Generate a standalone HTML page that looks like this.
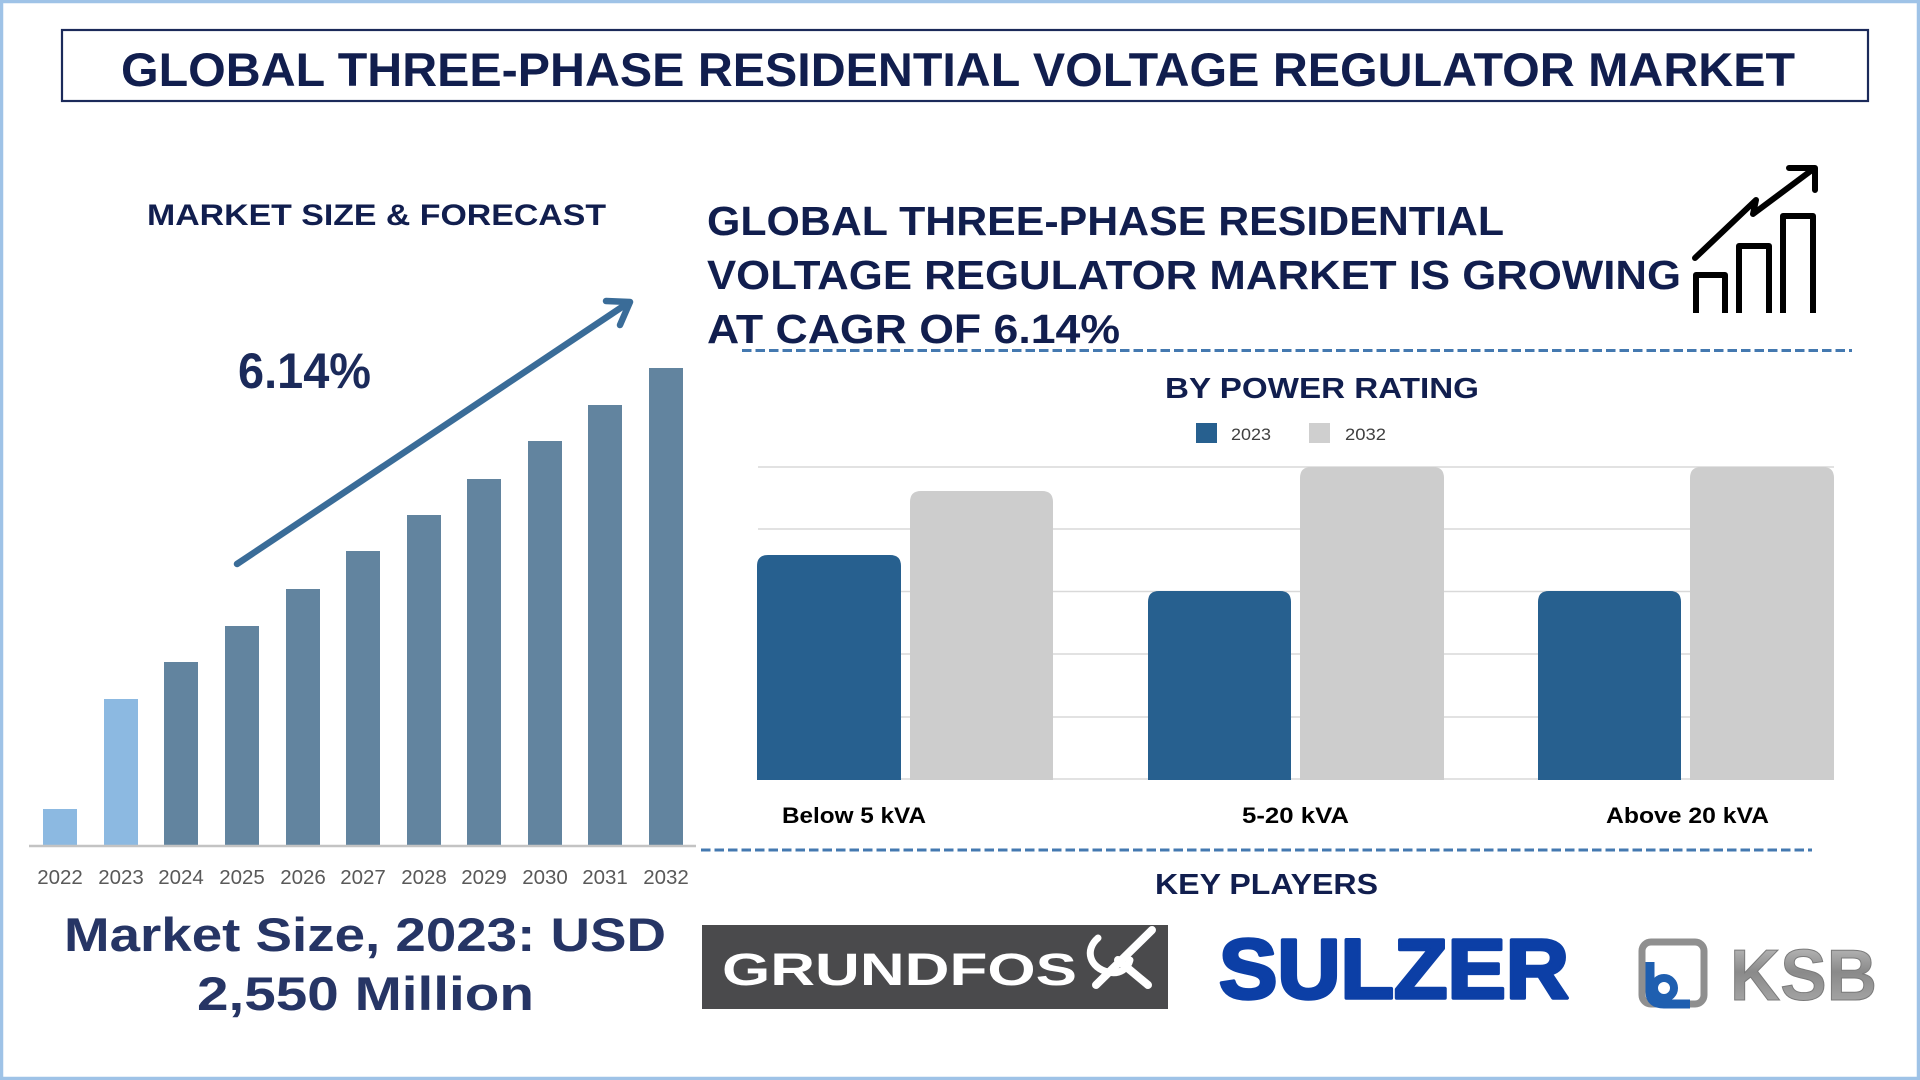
<!DOCTYPE html>
<html>
<head>
<meta charset="utf-8">
<style>
html,body{margin:0;padding:0;background:#fff;}
svg{display:block;}
text{font-family:"Liberation Sans",Arial,sans-serif;}
</style>
</head>
<body>
<svg width="1920" height="1080" viewBox="0 0 1920 1080" xmlns="http://www.w3.org/2000/svg">
  <rect x="0" y="0" width="1920" height="1080" fill="#ffffff"/>
  <!-- outer page border -->
  <rect x="1.5" y="1.5" width="1917" height="1077" fill="none" stroke="#9fc3e7" stroke-width="3.5"/>

  <!-- title box -->
  <rect x="62" y="30" width="1806" height="71" fill="#fff" stroke="#1b2a5a" stroke-width="2.2"/>
  <text x="121" y="86" font-size="47" font-weight="bold" fill="#111e4e" textLength="1674" lengthAdjust="spacingAndGlyphs">GLOBAL THREE-PHASE RESIDENTIAL VOLTAGE REGULATOR MARKET</text>

  <!-- left section heading -->
  <text x="147" y="225" font-size="30" font-weight="bold" fill="#111e4e" textLength="459" lengthAdjust="spacingAndGlyphs">MARKET SIZE &amp; FORECAST</text>

  <!-- left bar chart -->
  <g>
    <rect x="43" y="809" width="34" height="36" fill="#8cb9e1"/>
    <rect x="104" y="699" width="34" height="146" fill="#8cb9e1"/>
    <rect x="164" y="662" width="34" height="183" fill="#62849f"/>
    <rect x="225" y="626" width="34" height="219" fill="#62849f"/>
    <rect x="286" y="589" width="34" height="256" fill="#62849f"/>
    <rect x="346" y="551" width="34" height="294" fill="#62849f"/>
    <rect x="407" y="515" width="34" height="330" fill="#62849f"/>
    <rect x="467" y="479" width="34" height="366" fill="#62849f"/>
    <rect x="528" y="441" width="34" height="404" fill="#62849f"/>
    <rect x="588" y="405" width="34" height="440" fill="#62849f"/>
    <rect x="649" y="368" width="34" height="477" fill="#62849f"/>
    <line x1="29" y1="846" x2="696" y2="846" stroke="#c3c3c3" stroke-width="2.5"/>
  </g>
  <g font-size="20.5" fill="#595959" text-anchor="middle">
    <text x="60" y="884">2022</text>
    <text x="121" y="884">2023</text>
    <text x="181" y="884">2024</text>
    <text x="242" y="884">2025</text>
    <text x="303" y="884">2026</text>
    <text x="363" y="884">2027</text>
    <text x="424" y="884">2028</text>
    <text x="484" y="884">2029</text>
    <text x="545" y="884">2030</text>
    <text x="605" y="884">2031</text>
    <text x="666" y="884">2032</text>
  </g>

  <!-- growth arrow -->
  <g stroke="#3a6c98" stroke-width="6.5" stroke-linecap="round" fill="none">
    <line x1="237" y1="564" x2="628" y2="303"/>
    <polyline points="606,301 630,302 620,325" stroke-linejoin="round"/>
  </g>
  <text x="238" y="388" font-size="50" font-weight="bold" fill="#1b2a5a" textLength="133" lengthAdjust="spacingAndGlyphs">6.14%</text>

  <!-- market size text -->
  <text x="64" y="951" font-size="47" font-weight="bold" fill="#263565" textLength="602" lengthAdjust="spacingAndGlyphs">Market Size, 2023: USD</text>
  <text x="197" y="1010" font-size="47" font-weight="bold" fill="#263565" textLength="337" lengthAdjust="spacingAndGlyphs">2,550 Million</text>

  <!-- right heading -->
  <g font-size="41" font-weight="bold" fill="#111e4e">
    <text x="707" y="235" textLength="797" lengthAdjust="spacingAndGlyphs">GLOBAL THREE-PHASE RESIDENTIAL</text>
    <text x="707" y="289" textLength="974" lengthAdjust="spacingAndGlyphs">VOLTAGE REGULATOR MARKET IS GROWING</text>
    <text x="707" y="343" textLength="413" lengthAdjust="spacingAndGlyphs">AT CAGR OF 6.14%</text>
  </g>

  <!-- growth icon -->
  <g stroke="#000" stroke-width="6" fill="none" stroke-linejoin="round">
    <polyline points="1696,313 1696,275 1725,275 1725,313"/>
    <polyline points="1739,313 1739,246 1769,246 1769,313"/>
    <polyline points="1783,313 1783,216 1813,216 1813,313"/>
    <polyline points="1695,258 1756,200 1753,214 1812,170" stroke-linecap="round"/>
    <polyline points="1789,168 1815,168 1815,190" stroke-linecap="round"/>
  </g>

  <!-- dashed separator 1 -->
  <line x1="742" y1="350.5" x2="1852" y2="350.5" stroke="#4479b0" stroke-width="3" stroke-dasharray="9.5,4"/>

  <!-- By power rating -->
  <text x="1165" y="398" font-size="29" font-weight="bold" fill="#111e4e" textLength="314" lengthAdjust="spacingAndGlyphs">BY POWER RATING</text>
  <rect x="1196" y="423" width="21" height="20" fill="#27608f"/>
  <text x="1231" y="440" font-size="17" fill="#404040" textLength="40" lengthAdjust="spacingAndGlyphs">2023</text>
  <rect x="1309" y="423" width="21" height="20" fill="#cfcfcf"/>
  <text x="1345" y="440" font-size="17" fill="#404040" textLength="41" lengthAdjust="spacingAndGlyphs">2032</text>

  <!-- gridlines -->
  <g stroke="#d9d9d9" stroke-width="1.5">
    <line x1="758" y1="467" x2="1834" y2="467"/>
    <line x1="758" y1="529" x2="1834" y2="529"/>
    <line x1="758" y1="591.5" x2="1834" y2="591.5"/>
    <line x1="758" y1="654" x2="1834" y2="654"/>
    <line x1="758" y1="717" x2="1834" y2="717"/>
    <line x1="758" y1="779" x2="1834" y2="779"/>
  </g>

  <!-- right bars with rounded tops -->
  <g>
    <path d="M757,780 V566 Q757,555 768,555 H890 Q901,555 901,566 V780 Z" fill="#27608f"/>
    <path d="M910,780 V502 Q910,491 921,491 H1042 Q1053,491 1053,502 V780 Z" fill="#cdcdcd"/>
    <path d="M1148,780 V602 Q1148,591 1159,591 H1280 Q1291,591 1291,602 V780 Z" fill="#27608f"/>
    <path d="M1300,780 V478 Q1300,467 1311,467 H1433 Q1444,467 1444,478 V780 Z" fill="#cdcdcd"/>
    <path d="M1538,780 V602 Q1538,591 1549,591 H1670 Q1681,591 1681,602 V780 Z" fill="#27608f"/>
    <path d="M1690,780 V478 Q1690,467 1701,467 H1823 Q1834,467 1834,478 V780 Z" fill="#cdcdcd"/>
  </g>

  <!-- category labels -->
  <g font-size="22" font-weight="bold" fill="#000">
    <text x="782" y="823" textLength="144" lengthAdjust="spacingAndGlyphs">Below 5 kVA</text>
    <text x="1242" y="823" textLength="107" lengthAdjust="spacingAndGlyphs">5-20 kVA</text>
    <text x="1606" y="823" textLength="163" lengthAdjust="spacingAndGlyphs">Above 20 kVA</text>
  </g>

  <!-- dashed separator 2 -->
  <line x1="701" y1="850" x2="1812" y2="850" stroke="#4479b0" stroke-width="3" stroke-dasharray="9.5,4"/>

  <!-- key players -->
  <text x="1155" y="894" font-size="29" font-weight="bold" fill="#111e4e" textLength="223" lengthAdjust="spacingAndGlyphs">KEY PLAYERS</text>

  <!-- GRUNDFOS logo -->
  <rect x="702" y="925" width="466" height="84" fill="#4a4a4c"/>
  <text x="722" y="985" font-size="45" font-weight="bold" fill="#ffffff" textLength="355" lengthAdjust="spacingAndGlyphs">GRUNDFOS</text>
  <g fill="none" stroke="#ffffff" stroke-linecap="round">
    <path d="M1098,938 C1084,950 1090,968 1108,972 C1120,975 1128,968 1130,960" stroke-width="7"/>
    <path d="M1096,985 L1152,930" stroke-width="8"/>
    <path d="M1118,960 L1148,985" stroke-width="8"/>
  </g>

  <!-- SULZER logo -->
  <text x="1219" y="998" font-size="84" font-weight="bold" fill="#0c3fa6" stroke="#0c3fa6" stroke-width="3.5" stroke-linejoin="round" textLength="350" lengthAdjust="spacingAndGlyphs">SULZER</text>

  <!-- KSB logo -->
  <defs>
    <linearGradient id="ksbg" x1="0" y1="0" x2="0" y2="1">
      <stop offset="0" stop-color="#c8c8c8"/>
      <stop offset="0.45" stop-color="#8a8a8a"/>
      <stop offset="1" stop-color="#b0b0b0"/>
    </linearGradient>
  </defs>
  <rect x="1642" y="942" width="62" height="62" rx="9" fill="none" stroke="#8f8f8f" stroke-width="7"/>
  <path d="M1650,962 V992 Q1650,1004 1664,1004 H1690" fill="none" stroke="#1f5fb0" stroke-width="9"/>
  <circle cx="1664" cy="988" r="10" fill="none" stroke="#1f5fb0" stroke-width="8"/>
  <text x="1730" y="1000" font-size="72" font-weight="bold" fill="url(#ksbg)" stroke="#7a7a7a" stroke-width="1" textLength="147" lengthAdjust="spacingAndGlyphs">KSB</text>
</svg>
</body>
</html>
